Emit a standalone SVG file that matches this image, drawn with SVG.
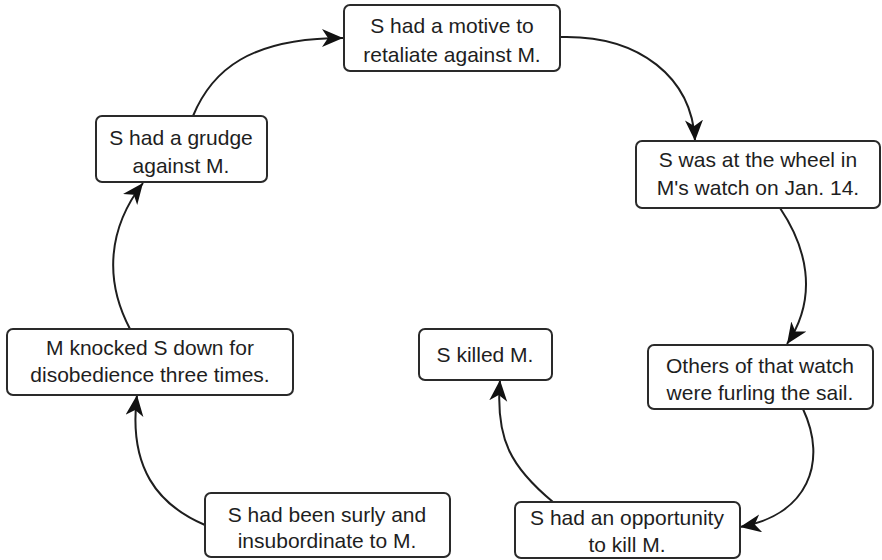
<svg xmlns="http://www.w3.org/2000/svg" width="882" height="560" viewBox="0 0 882 560">
  <style>
    .box { fill: #ffffff; stroke: #2a2a2a; stroke-width: 2; }
    .lbl { font-family: "Liberation Sans", Arial, sans-serif; font-size: 21px; fill: #1e1e1e; text-anchor: middle; }
    .edge { fill: none; stroke: #1e1e1e; stroke-width: 2; }
  </style>
  <defs>
    <marker id="arrow" markerUnits="userSpaceOnUse" markerWidth="24" markerHeight="20" refX="21" refY="9" orient="auto">
      <path d="M0,0 L21,9 L0,18 L6,9 Z" fill="#111111"/>
    </marker>
  </defs>
  <rect width="882" height="560" fill="#ffffff"/>

  <g id="connectors">
    <path class="edge" marker-end="url(#arrow)" d="M193,116 C212,70 250,38 343,38"/>
    <path class="edge" marker-end="url(#arrow)" d="M561,37 C640,35 692,78 695,141"/>
    <path class="edge" marker-end="url(#arrow)" d="M780,208 C805,245 820,295 787,344"/>
    <path class="edge" marker-end="url(#arrow)" d="M803,409 C828,462 808,515 740,527"/>
    <path class="edge" marker-end="url(#arrow)" d="M553,502 C512,468 495,440 500,380"/>
    <path class="edge" marker-end="url(#arrow)" d="M205,525 C158,505 128,468 137,395"/>
    <path class="edge" marker-end="url(#arrow)" d="M130,329 C104,280 108,228 143,183"/>
  </g>

  <g id="motive">
    <rect class="box" x="344" y="5" width="216" height="66" rx="6"/>
    <text class="lbl" x="452" y="33">S had a motive to</text>
    <text class="lbl" x="452" y="62">retaliate against M.</text>
  </g>

  <g id="wheel">
    <rect class="box" x="636" y="141" width="244" height="67" rx="6"/>
    <text class="lbl" x="758" y="167">S was at the wheel in</text>
    <text class="lbl" x="758" y="195">M's watch on Jan. 14.</text>
  </g>

  <g id="furling">
    <rect class="box" x="648" y="345" width="225" height="64" rx="6"/>
    <text class="lbl" x="760" y="373">Others of that watch</text>
    <text class="lbl" x="760" y="400">were furling the sail.</text>
  </g>

  <g id="opportunity">
    <rect class="box" x="515" y="502" width="225" height="56" rx="6"/>
    <text class="lbl" x="627" y="525">S had an opportunity</text>
    <text class="lbl" x="627" y="552">to kill M.</text>
  </g>

  <g id="killed">
    <rect class="box" x="419" y="329" width="133" height="51" rx="6"/>
    <text class="lbl" x="485" y="362">S killed M.</text>
  </g>

  <g id="surly">
    <rect class="box" x="205" y="493" width="245" height="64" rx="6"/>
    <text class="lbl" x="327" y="522">S had been surly and</text>
    <text class="lbl" x="327" y="548">insubordinate to M.</text>
  </g>

  <g id="knocked">
    <rect class="box" x="7" y="329" width="286" height="66" rx="6"/>
    <text class="lbl" x="150" y="355">M knocked S down for</text>
    <text class="lbl" x="150" y="382">disobedience three times.</text>
  </g>

  <g id="grudge">
    <rect class="box" x="96" y="116" width="171" height="66" rx="6"/>
    <text class="lbl" x="181" y="145">S had a grudge</text>
    <text class="lbl" x="181" y="173">against M.</text>
  </g>
</svg>
